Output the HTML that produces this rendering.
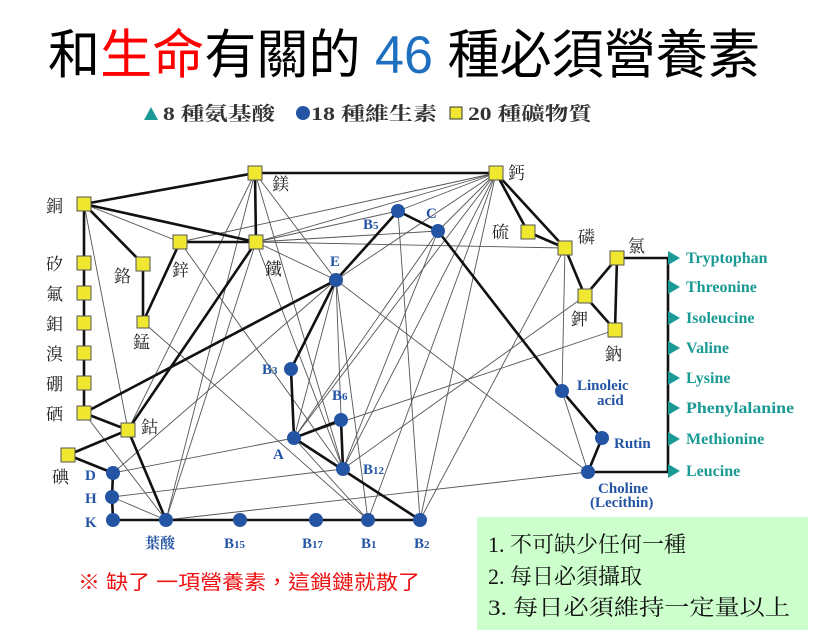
<!DOCTYPE html>
<html><head><meta charset="utf-8"><style>
html,body{margin:0;padding:0;background:#fff;}
body{width:828px;height:638px;overflow:hidden;position:relative;font-family:"Liberation Serif","Noto Serif CJK SC","Noto Sans CJK TC",serif;}
</style></head><body>
<svg width="828" height="638" viewBox="0 0 828 638" xmlns="http://www.w3.org/2000/svg">
<text x="48" y="73" font-family="'Liberation Sans','Noto Sans CJK TC',sans-serif" font-size="53" fill="#000" textLength="712" lengthAdjust="spacingAndGlyphs">和<tspan fill="#ff0000">生命</tspan>有關的 <tspan fill="#1f6fc0">46</tspan> 種必須營養素</text>
<g font-family="'Liberation Serif','Noto Serif CJK TC',serif" font-size="19" font-weight="bold" fill="#333">
<polygon points="144,120 151,107 158,120" fill="#1a9a94"/>
<text x="163" y="120" textLength="112" lengthAdjust="spacingAndGlyphs">8 種氨基酸</text>
<circle cx="303" cy="113" r="7" fill="#2455a4"/>
<text x="311" y="120" textLength="126" lengthAdjust="spacingAndGlyphs">18 種維生素</text>
<rect x="450" y="107" width="12" height="12" fill="#f0e830" stroke="#333"/>
<text x="468" y="120" textLength="124" lengthAdjust="spacingAndGlyphs">20 種礦物質</text>
</g>
<!-- thin lines -->
<g stroke="#555" stroke-width="0.9" fill="none">
<line x1="255" y1="173" x2="128" y2="430"/><line x1="255" y1="173" x2="166" y2="520"/><line x1="255" y1="173" x2="336" y2="280"/><line x1="255" y1="173" x2="343" y2="469"/>
<line x1="84" y1="204" x2="128" y2="430"/><line x1="84" y1="204" x2="180" y2="242"/>
<line x1="180" y1="242" x2="343" y2="469"/><line x1="180" y1="242" x2="496" y2="173"/>
<line x1="256" y1="242" x2="336" y2="280"/><line x1="256" y1="242" x2="343" y2="469"/><line x1="256" y1="242" x2="166" y2="520"/><line x1="256" y1="242" x2="565" y2="248"/><line x1="256" y1="242" x2="438" y2="231"/><line x1="256" y1="242" x2="496" y2="173"/>
<line x1="143" y1="322" x2="368" y2="520"/>
<line x1="84" y1="413" x2="166" y2="520"/>
<line x1="113" y1="473" x2="294" y2="438"/><line x1="112" y1="497" x2="343" y2="469"/><line x1="112" y1="497" x2="166" y2="520"/><line x1="166" y1="520" x2="588" y2="472"/>
<line x1="336" y1="280" x2="343" y2="469"/><line x1="336" y1="280" x2="368" y2="520"/><line x1="336" y1="280" x2="588" y2="472"/><line x1="336" y1="280" x2="294" y2="438"/><line x1="336" y1="280" x2="113" y2="473"/>
<line x1="496" y1="173" x2="398" y2="211"/><line x1="496" y1="173" x2="336" y2="280"/><line x1="496" y1="173" x2="294" y2="438"/><line x1="496" y1="173" x2="343" y2="469"/><line x1="496" y1="173" x2="368" y2="520"/><line x1="496" y1="173" x2="420" y2="520"/><line x1="496" y1="173" x2="438" y2="231"/>
<line x1="565" y1="248" x2="562" y2="391"/><line x1="565" y1="248" x2="420" y2="520"/>
<line x1="585" y1="296" x2="343" y2="469"/><line x1="615" y1="330" x2="294" y2="438"/>
<line x1="438" y1="231" x2="343" y2="469"/><line x1="438" y1="231" x2="294" y2="438"/>
<line x1="398" y1="211" x2="420" y2="520"/><line x1="398" y1="211" x2="256" y2="242"/>
<line x1="562" y1="391" x2="588" y2="472"/><line x1="294" y1="438" x2="368" y2="520"/>
</g>
<!-- thick lines -->
<g stroke="#111" stroke-width="2.6" fill="none">
<line x1="84" y1="204" x2="255" y2="173"/><line x1="84" y1="204" x2="256" y2="242"/><line x1="84" y1="204" x2="143" y2="264"/>
<line x1="84" y1="204" x2="84" y2="413"/>
<line x1="255" y1="173" x2="496" y2="173"/><line x1="255" y1="173" x2="256" y2="242"/><line x1="180" y1="242" x2="256" y2="242"/>
<line x1="180" y1="242" x2="143" y2="322"/><line x1="143" y1="264" x2="143" y2="322"/><line x1="256" y1="242" x2="128" y2="430"/>
<line x1="84" y1="413" x2="336" y2="280"/><line x1="84" y1="413" x2="128" y2="430"/><line x1="128" y1="430" x2="68" y2="455"/><line x1="128" y1="430" x2="166" y2="520"/>
<line x1="68" y1="455" x2="113" y2="473"/><polyline points="113,473 112,497 113,520 420,520"/>
<line x1="336" y1="280" x2="398" y2="211"/><line x1="398" y1="211" x2="438" y2="231"/>
<polyline points="336,280 291,369 294,438 341,420 343,469"/><line x1="294" y1="438" x2="420" y2="520"/>
<polyline points="438,231 562,391 602,438 588,472 668,472"/>
<line x1="496" y1="173" x2="528" y2="232"/><line x1="496" y1="173" x2="565" y2="248"/><line x1="528" y1="232" x2="565" y2="248"/>
<line x1="565" y1="248" x2="585" y2="296"/><line x1="585" y1="296" x2="617" y2="258"/><line x1="617" y1="258" x2="615" y2="330"/><line x1="585" y1="296" x2="615" y2="330"/>
<line x1="617" y1="258" x2="668" y2="258"/><line x1="668" y1="258" x2="668" y2="472"/>
</g>
<!-- squares -->
<g fill="#f0e830" stroke="#555" stroke-width="1">
<rect x="248" y="166" width="14" height="14"/><rect x="489" y="166" width="14" height="14"/><rect x="77" y="197" width="14" height="14"/>
<rect x="77" y="256" width="14" height="14"/><rect x="77" y="286" width="14" height="14"/><rect x="77" y="316" width="14" height="14"/><rect x="77" y="346" width="14" height="14"/><rect x="77" y="376" width="14" height="14"/><rect x="77" y="406" width="14" height="14"/>
<rect x="136" y="257" width="14" height="14"/><rect x="173" y="235" width="14" height="14"/><rect x="249" y="235" width="14" height="14"/><rect x="137" y="316" width="12" height="12"/>
<rect x="121" y="423" width="14" height="14"/><rect x="61" y="448" width="14" height="14"/>
<rect x="521" y="225" width="14" height="14"/><rect x="558" y="241" width="14" height="14"/><rect x="578" y="289" width="14" height="14"/><rect x="610" y="251" width="14" height="14"/><rect x="608" y="323" width="14" height="14"/>
</g>
<!-- circles -->
<g fill="#2455a4">
<circle cx="398" cy="211" r="7"/><circle cx="438" cy="231" r="7"/><circle cx="336" cy="280" r="7"/><circle cx="291" cy="369" r="7"/><circle cx="341" cy="420" r="7"/><circle cx="294" cy="438" r="7"/><circle cx="343" cy="469" r="7"/>
<circle cx="113" cy="473" r="7"/><circle cx="112" cy="497" r="7"/><circle cx="113" cy="520" r="7"/><circle cx="166" cy="520" r="7"/><circle cx="240" cy="520" r="7"/><circle cx="316" cy="520" r="7"/><circle cx="368" cy="520" r="7"/><circle cx="420" cy="520" r="7"/>
<circle cx="562" cy="391" r="7"/><circle cx="602" cy="438" r="7"/><circle cx="588" cy="472" r="7"/>
</g>
<!-- triangles -->
<g fill="#1a9a94">
<polygon points="668,251 680,258 668,265"/><polygon points="668,280 680,287 668,294"/><polygon points="668,311 680,318 668,325"/><polygon points="668,341 680,348 668,355"/><polygon points="668,371 680,378 668,385"/><polygon points="668,401 680,408 668,415"/><polygon points="668,432 680,439 668,446"/><polygon points="668,464 680,471 668,478"/>
</g>
<g font-family="'Liberation Serif',serif" font-weight="bold" font-size="16" fill="#1a9a94">
<text x="686" y="263">Tryptophan</text><text x="686" y="292">Threonine</text><text x="686" y="323">Isoleucine</text><text x="686" y="353">Valine</text><text x="686" y="383">Lysine</text><text x="686" y="413" textLength="108" lengthAdjust="spacingAndGlyphs">Phenylalanine</text><text x="686" y="444">Methionine</text><text x="686" y="476">Leucine</text>
</g>
<g font-family="'Liberation Serif','Noto Serif CJK TC',serif" font-size="17" fill="#222">
<text x="272" y="190">鎂</text><text x="508" y="179">鈣</text><text x="46" y="212">銅</text>
<text x="46" y="270">矽</text><text x="46" y="300">氟</text><text x="46" y="330">鉬</text><text x="46" y="360">溴</text><text x="46" y="390">硼</text><text x="46" y="420">硒</text>
<text x="114" y="282">鉻</text><text x="172" y="276">鋅</text><text x="265" y="275">鐵</text><text x="133" y="348">錳</text><text x="141" y="433">鈷</text><text x="52" y="483">碘</text>
<text x="492" y="238">硫</text><text x="578" y="243">磷</text><text x="628" y="252">氯</text><text x="571" y="325">鉀</text><text x="605" y="360">鈉</text>
</g>
<g font-family="'Liberation Serif','Noto Serif CJK TC',serif" font-weight="bold" font-size="15" fill="#2455a4">
<text x="363" y="229">B<tspan font-size="11">5</tspan></text><text x="426" y="218">C</text><text x="330" y="266">E</text><text x="262" y="374">B<tspan font-size="11">3</tspan></text><text x="332" y="400">B<tspan font-size="11">6</tspan></text><text x="273" y="459">A</text><text x="363" y="474">B<tspan font-size="11">12</tspan></text>
<text x="85" y="480">D</text><text x="85" y="503">H</text><text x="85" y="527">K</text>
<text x="145" y="548">葉酸</text><text x="224" y="548">B<tspan font-size="11">15</tspan></text><text x="302" y="548">B<tspan font-size="11">17</tspan></text><text x="361" y="548">B<tspan font-size="11">1</tspan></text><text x="414" y="548">B<tspan font-size="11">2</tspan></text>
<text x="577" y="390">Linoleic</text><text x="597" y="405">acid</text><text x="614" y="448">Rutin</text><text x="598" y="493">Choline</text><text x="590" y="507">(Lecithin)</text>
</g>
<text x="78" y="589" font-family="'Liberation Sans','Noto Sans CJK TC',sans-serif" font-size="20" fill="#ee1111" textLength="342" lengthAdjust="spacingAndGlyphs">※ 缺了 一項營養素，這鎖鏈就散了</text>
<rect x="477" y="517" width="331" height="113" fill="#ccffcc"/>
<g font-family="'Liberation Serif','Noto Serif CJK TC',serif" font-size="22" fill="#111">
<text x="488" y="552">1. 不可缺少任何一種</text><text x="488" y="584">2. 每日必須攝取</text><text x="488" y="615" textLength="302" lengthAdjust="spacingAndGlyphs">3. 每日必須維持一定量以上</text>
</g>
</svg>
</body></html>
